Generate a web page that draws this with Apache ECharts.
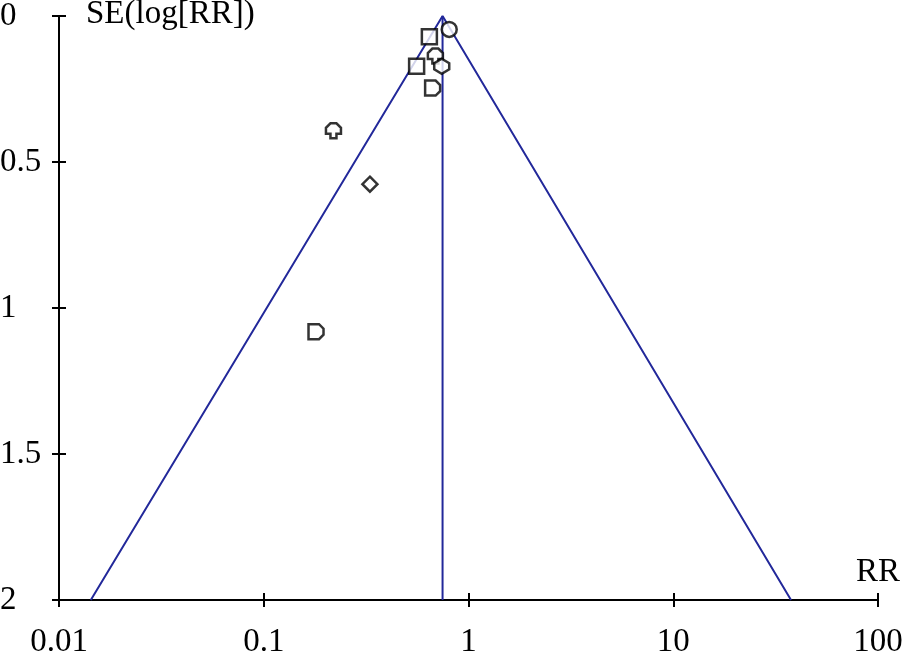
<!DOCTYPE html>
<html><head><meta charset="utf-8">
<script src="https://cdn.jsdelivr.net/npm/echarts@6/dist/echarts.min.js"></script>
<style>html,body{margin:0;padding:0;background:#fff}#c{width:904px;height:653px}</style>
</head><body><div id="c"></div>
<script>
// Study points: relative risk and SE(log RR)
const studyRR = [0.805, 0.644, 0.689, 0.558, 0.740, 0.668, 0.219, 0.330, 0.180];
const studySE = [0.046, 0.071, 0.137, 0.172, 0.172, 0.247, 0.393, 0.576, 1.081];
const studySymbols = ['circle', 'rect', 'house', 'rect', 'hex', 'rrect', 'house', 'diamond', 'rrect'];
// Funnel outline (pseudo 95% CI) and pooled estimate
const funnelRR = [0.0143, 0.747, 37.6];
const funnelSE = [2, 0, 2];
const pooledRR = 0.747;
const xTicks = ['0.01', '0.1', '1', '10', '100'];
const yTicks = ['0', '0.5', '1', '1.5', '2'];

const FONT = '"Liberation Serif", "DejaVu Serif", serif';
const FS = 33;
const symMap = {
  circle: 'circle',
  rect: 'rect',
  diamond: 'diamond',
  house: 'path://M3,0 L7,0 L10,3 L10,7 L7,7 L7,10 L3,10 L3,7 L0,7 L0,3 Z',
  hex: 'path://M5,0 L10,3 L10,7 L5,10 L0,7 L0,3 Z',
  rrect: 'path://M0,0 L7,0 L10,3 L10,7 L7,10 L0,10 Z'
};
const pts = studyRR.map((v, i) => ({ value: [v, studySE[i]], symbol: symMap[studySymbols[i]] }));

const chart = echarts.init(document.getElementById('c'));
const axisLine = { show: true, onZero: false, lineStyle: { color: '#000', width: 2 } };
const tickStyle = { color: '#000', width: 2 };
const lbl = { fontFamily: FONT, fontSize: FS, color: '#000' };
chart.setOption({
  animation: false,
  grid: { left: 59, right: 26, top: 16, bottom: 53, outerBoundsMode: 'none', containLabel: false },
  xAxis: [
    { type: 'log', logBase: 10, min: 0.01, max: 100, position: 'bottom',
      axisLine: axisLine, splitLine: { show: false },
      axisTick: { show: true, length: 7, lineStyle: tickStyle },
      minorTick: { show: false },
      axisLabel: Object.assign({ margin: 26, formatter: v => xTicks[Math.round(Math.log10(v)) + 2] }, lbl) },
    { type: 'log', logBase: 10, min: 0.01, max: 100, position: 'bottom',
      axisLine: { show: false, onZero: false }, splitLine: { show: false },
      axisTick: { show: true, inside: true, length: 7, lineStyle: tickStyle },
      axisLabel: { show: false } }
  ],
  yAxis: [
    { type: 'value', min: 0, max: 2, interval: 0.5, inverse: true, position: 'left',
      axisLine: axisLine, splitLine: { show: false },
      axisTick: { show: true, length: 7, lineStyle: tickStyle },
      axisLabel: Object.assign({ margin: 59, align: 'left', formatter: v => yTicks[Math.round(v * 2)] }, lbl) },
    { type: 'value', min: 0, max: 2, interval: 0.5, inverse: true, position: 'left',
      axisLine: { show: false, onZero: false }, splitLine: { show: false },
      axisTick: { show: true, inside: true, length: 7, lineStyle: tickStyle },
      axisLabel: { show: false } }
  ],
  graphic: [
    { type: 'text', left: 86, top: -2, style: { text: 'SE(log[RR])', font: FS + 'px ' + FONT, fill: '#000' } },
    { type: 'text', left: 856, top: 556, style: { text: 'RR', font: FS + 'px ' + FONT, fill: '#000' } }
  ],
  series: [
    { type: 'line', data: funnelRR.map((v, i) => [v, funnelSE[i]]), symbol: 'none',
      lineStyle: { color: '#22289a', width: 2 }, z: 2 },
    { type: 'line', data: [[pooledRR, 0], [pooledRR, 2]], symbol: 'none',
      lineStyle: { color: '#22289a', width: 2 }, z: 2 },
    { type: 'scatter', data: pts, symbolSize: 15,
      itemStyle: { color: '#fff', borderColor: '#000', borderWidth: 2.5 }, z: 3 }
  ]
});
</script></body></html>
